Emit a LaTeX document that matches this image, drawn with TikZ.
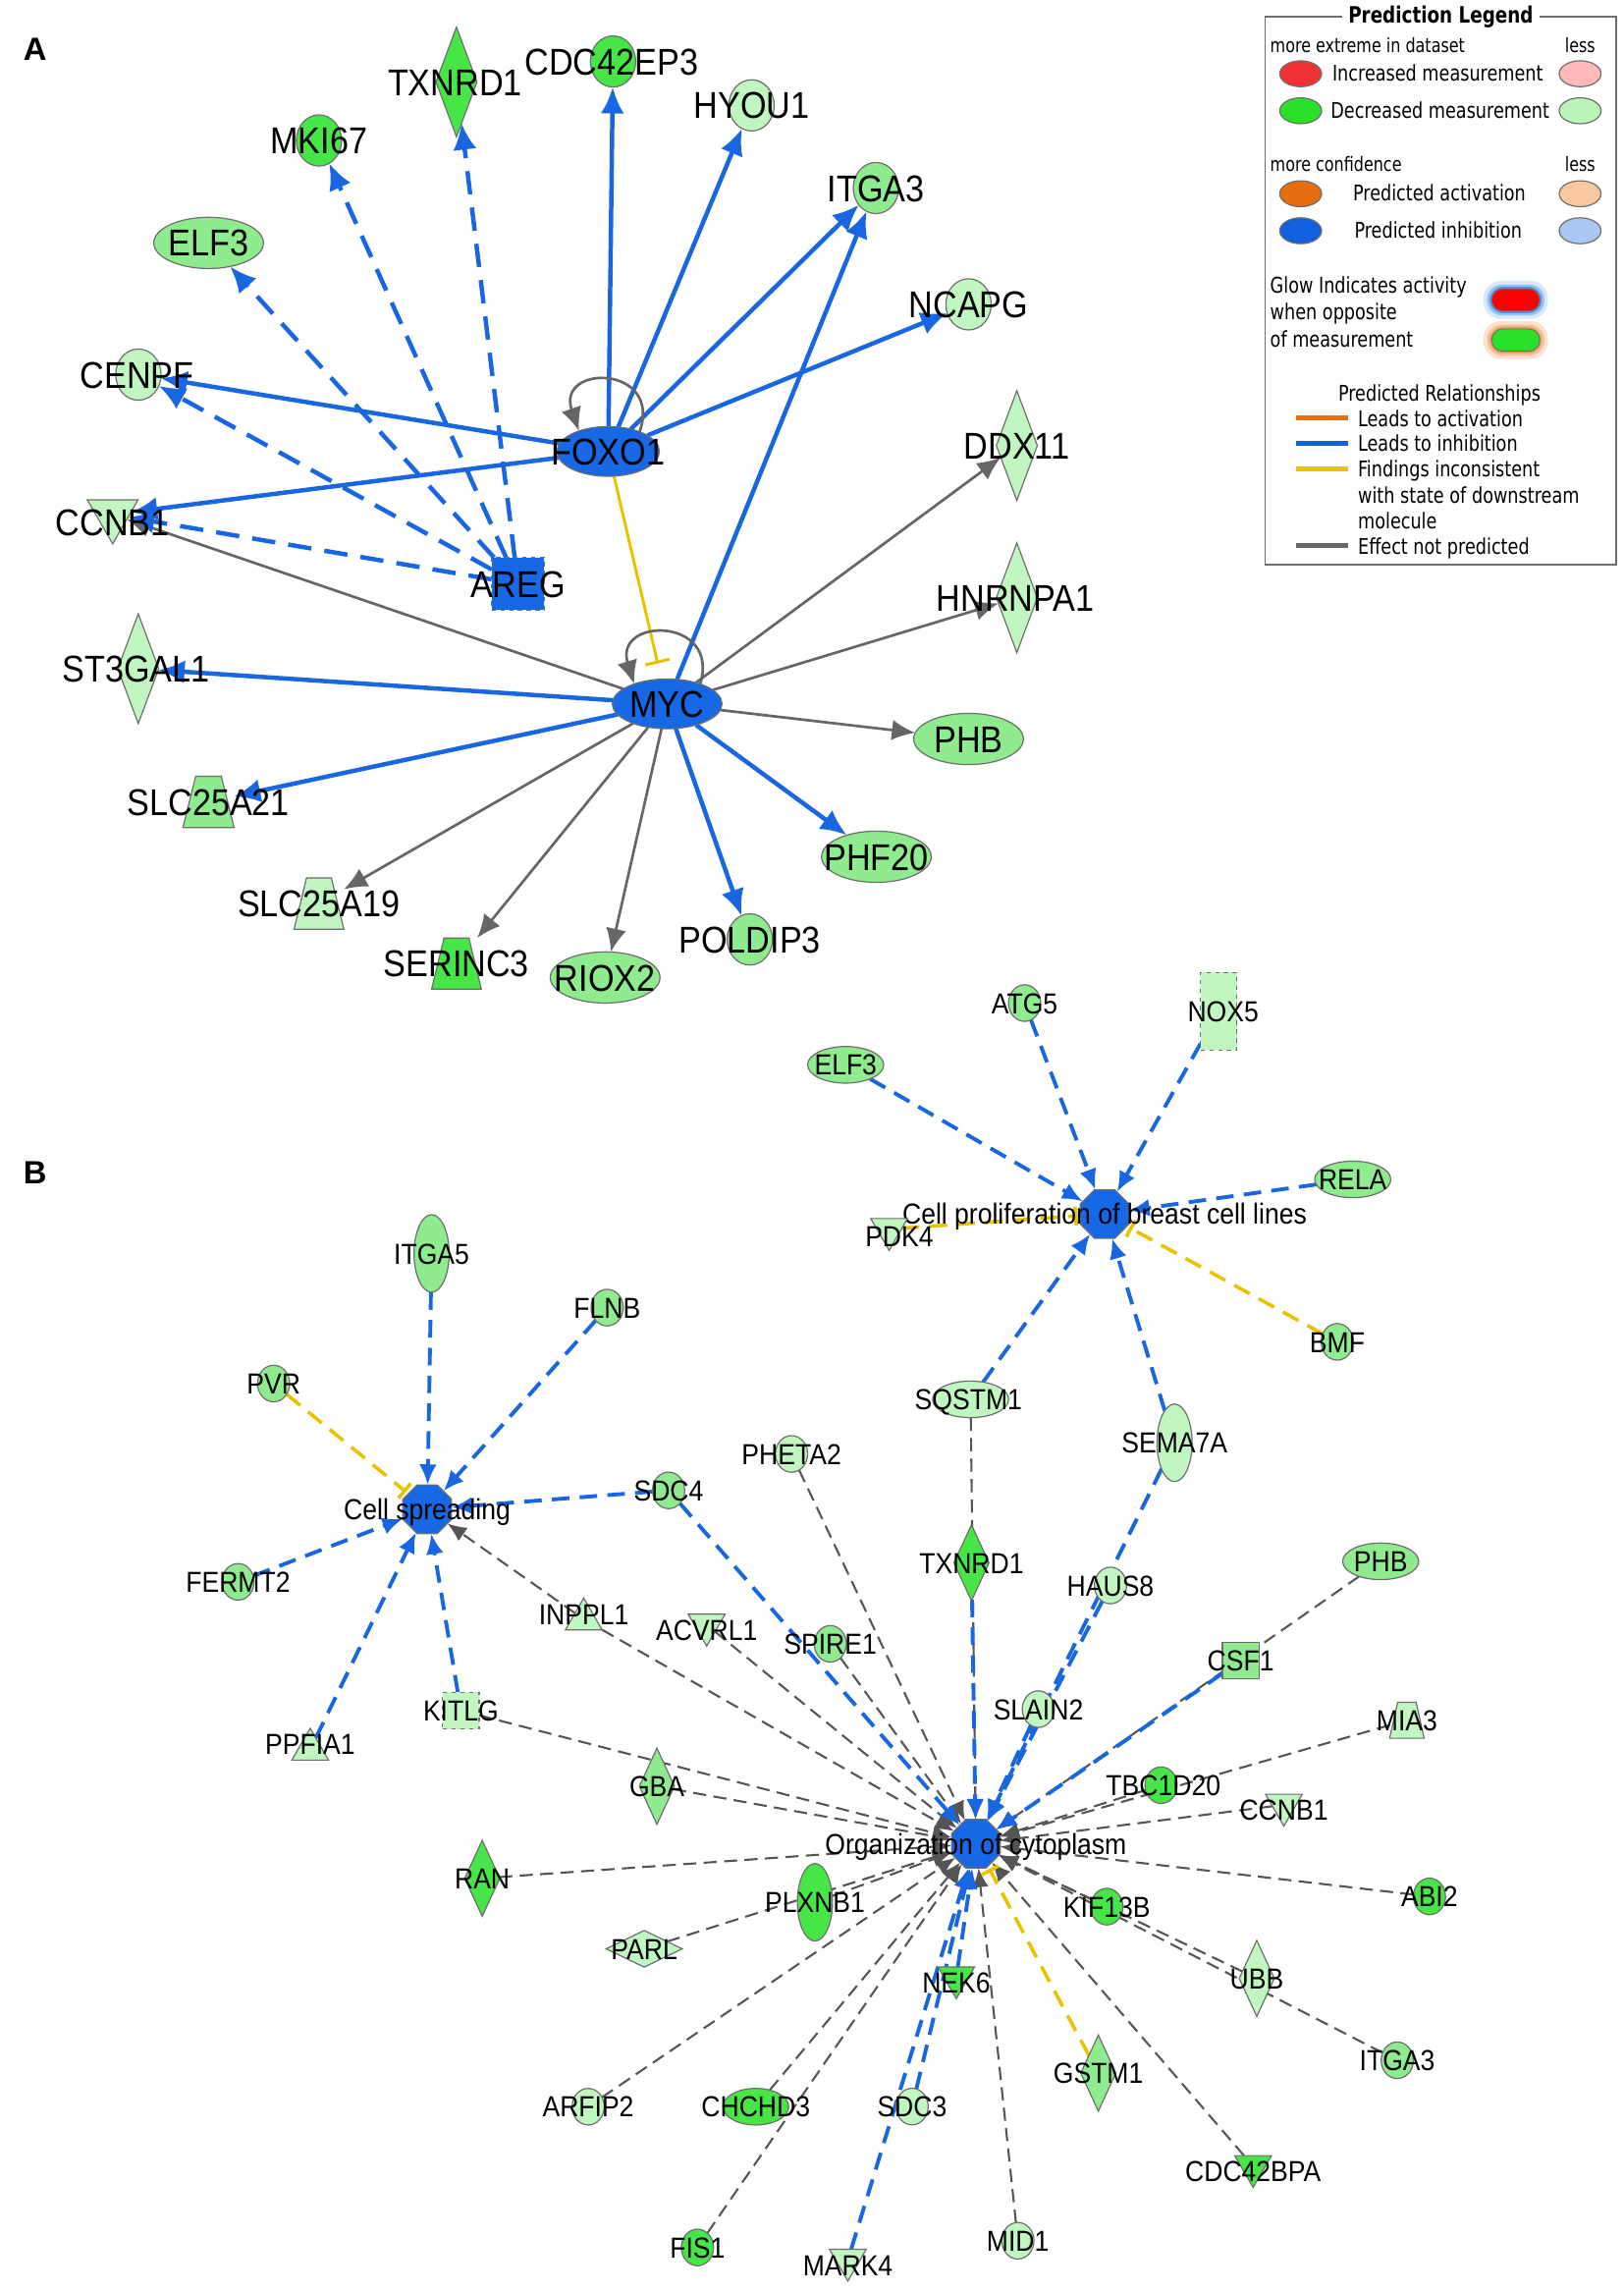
\documentclass[tikz,border=0pt]{standalone}
\usepackage{fontspec}
\usetikzlibrary{arrows.meta,shapes.geometric}
\newfontfamily\genefont[FakeStretch=0.9]{Liberation Sans}
\newfontfamily\legfont[FakeStretch=0.8]{DejaVu Sans}
\newfontfamily\panelfont{Liberation Sans}
\newcommand\fntA{\genefont\fontsize{25.5pt}{26pt}\selectfont}
\newcommand\fntB{\genefont\fontsize{19.8pt}{20pt}\selectfont}
\newcommand\fntL{\legfont\fontsize{14.8pt}{17pt}\selectfont}
\newcommand\fntLs{\legfont\fontsize{13.4pt}{15pt}\selectfont}
\newcommand\fntLt{\legfont\bfseries\fontsize{15.4pt}{17pt}\selectfont}
\newcommand\fntP{\panelfont\bfseries\fontsize{22pt}{22pt}\selectfont}
\definecolor{g1}{RGB}{70,230,70}
\definecolor{g2}{RGB}{142,236,142}
\definecolor{g3}{RGB}{192,246,192}
\definecolor{nblue}{RGB}{22,104,228}
\definecolor{eblue}{RGB}{24,102,226}
\definecolor{egray}{RGB}{102,102,102}
\definecolor{egray2}{RGB}{85,85,85}
\definecolor{eyel}{RGB}{232,196,0}
\definecolor{ngray}{RGB}{110,110,110}
\definecolor{lred}{RGB}{240,50,50}
\definecolor{lpink}{RGB}{255,185,185}
\definecolor{lgreen}{RGB}{40,225,40}
\definecolor{llgreen}{RGB}{185,245,185}
\definecolor{lorange}{RGB}{230,110,15}
\definecolor{lpeach}{RGB}{250,200,160}
\definecolor{lblue}{RGB}{16,96,224}
\definecolor{llblue}{RGB}{170,200,245}
\definecolor{gb1}{RGB}{214,232,252}
\definecolor{gb2}{RGB}{150,192,244}
\definecolor{gb3}{RGB}{80,145,232}
\definecolor{go1}{RGB}{252,226,206}
\definecolor{go2}{RGB}{246,190,150}
\definecolor{go3}{RGB}{238,150,100}
\pgfdeclarelayer{bg}
\pgfdeclarelayer{edges}
\pgfsetlayers{bg,edges,main}
\newcommand\mkgene[5]{\node[#3] (#1) at (#2) {}; \node[#4] (#1-t) at (#2) {#5};}
\newcommand\mktrap[8]{%
  \node[inner sep=0pt,outer sep=0pt,minimum width=#4pt,minimum height=#5pt] (#1) at (#2) {};
  \filldraw[fill=#3,draw=ngray,line width=0.8pt] (#1.south west) -- (#1.south east) -- ([xshift=-#6pt]#1.north east) -- ([xshift=#6pt]#1.north west) -- cycle;
  \node[#7] (#1-t) at (#2) {#8};}
\tikzset{
  nd/.style={draw=ngray, line width=0.8pt, inner sep=0pt, outer sep=0pt},
  circA/.style={nd, ellipse, minimum width=31pt, minimum height=35pt},
  ellA/.style={nd, ellipse, minimum width=75pt, minimum height=35pt},
  diaA/.style={nd, diamond, minimum width=28pt, minimum height=75pt},
  dtriA/.style={nd, regular polygon, regular polygon sides=3, shape border rotate=180, minimum size=40pt, yshift=5pt},
  sqA/.style={nd, rectangle, dashed, minimum width=36pt, minimum height=36pt},
  circB/.style={nd, ellipse, minimum width=22pt, minimum height=25pt},
  ellB/.style={nd, ellipse, minimum width=52pt, minimum height=25pt},
  vellB/.style={nd, ellipse, minimum width=24pt, minimum height=53pt},
  diaB/.style={nd, diamond, minimum width=24pt, minimum height=52pt},
  fdiaB/.style={nd, diamond, minimum width=52pt, minimum height=25pt},
  sqB/.style={nd, rectangle, minimum width=25pt, minimum height=25pt},
  dtriB/.style={nd, regular polygon, regular polygon sides=3, shape border rotate=180, minimum size=29pt, yshift=3.6pt},
  utriB/.style={nd, regular polygon, regular polygon sides=3, minimum size=29pt, yshift=-3.6pt},
  hub/.style={nd, regular polygon, regular polygon sides=8, minimum size=36pt, fill=nblue},
  labA/.style={font=\fntA, inner sep=0pt, text height=18.3pt, text depth=0pt},
  labB/.style={font=\fntB, inner sep=0pt, text height=14.2pt, text depth=0pt},
  eA/.style={line width=3pt, draw=eblue, -{Latex[length=18pt,width=16pt]}},
  eAd/.style={eA, dash pattern=on 16pt off 9pt},
  eAg/.style={line width=1.8pt, draw=egray, -{Latex[length=16pt,width=14pt]}},
  eAy/.style={line width=2pt, draw=eyel, -{Bar[width=17pt]}, shorten >=11pt},
  eB/.style={line width=2.6pt, draw=eblue, dash pattern=on 12pt off 7pt, -{Latex[length=14pt,width=12pt]}},
  eBg/.style={line width=1.4pt, draw=egray2, dash pattern=on 9pt off 5pt, -{Latex[length=13pt,width=11pt]}},
  eBy/.style={line width=2.4pt, draw=eyel, dash pattern=on 12pt off 7pt, -{Bar[width=13pt]}, shorten >=2pt},
  legell/.style={draw=ngray, line width=0.8pt, ellipse, minimum width=28.6pt, minimum height=17.7pt, inner sep=0pt},
  legtxt/.style={font=\fntL, inner sep=0pt, text height=10.8pt, text depth=0pt},
  legsm/.style={font=\fntLs, inner sep=0pt, text height=9.8pt, text depth=0pt},
  pill/.style={rectangle, rounded corners=7.5pt, minimum width=32.8pt, minimum height=15.2pt, inner sep=0pt, draw=ngray, line width=0.6pt},
  glow/.style={rectangle, inner sep=0pt},
  llin/.style={line width=3.2pt},
  plab/.style={font=\fntP, inner sep=0pt}
}
\begin{document}
\begin{tikzpicture}[x=1pt,y=-1pt]
\begin{pgfonlayer}{bg}
\path[fill=white] (0,0) rectangle (1110,1566.35);
\end{pgfonlayer}
\useasboundingbox (0,0) rectangle (1110,1566.35);

% ---------------- Panel A ----------------
\node[plab] (labelA) at (24,33.6) {A};
\mkgene{A-MKI67}{218,96}{circA,fill=g1}{labA}{MKI67}
\mkgene{A-TXNRD1}{312,56}{diaA,fill=g1}{labA,xshift=-1pt}{TXNRD1}
\mkgene{A-CDC42EP3}{419,42}{circA,fill=g1}{labA,xshift=-1pt}{CDC42EP3}
\mkgene{A-HYOU1}{513.7,72}{circA,fill=g3}{labA}{HYOU1}
\mkgene{A-ITGA3}{598.7,128.5}{circA,fill=g2}{labA}{ITGA3}
\mkgene{A-NCAPG}{662,208}{circA,fill=g3}{labA}{NCAPG}
\mkgene{A-ELF3}{142.6,166}{ellA,fill=g2}{labA}{ELF3}
\mkgene{A-CENPF}{94.6,256}{circA,fill=g3}{labA,xshift=-1pt}{CENPF}
\mkgene{A-FOXO1}{415.7,308.5}{ellA,minimum width=70pt,minimum height=34pt,fill=nblue}{labA}{FOXO1}
\mkgene{A-CCNB1}{77,356.6}{dtriA,fill=g3}{labA}{CCNB1}
\mkgene{A-AREG}{354,399}{sqA,fill=nblue}{labA}{AREG}
\mkgene{A-DDX11}{695,304.5}{diaA,fill=g3}{labA}{DDX11}
\mkgene{A-HNRNPA1}{695,408.5}{diaA,fill=g3}{labA,xshift=-1pt}{HNRNPA1}
\mkgene{A-ST3GAL1}{94.5,457}{diaA,fill=g3}{labA,xshift=-1.5pt}{ST3GAL1}
\mkgene{A-MYC}{456,481}{ellA,minimum height=34pt,fill=nblue}{labA}{MYC}
\mkgene{A-PHB}{662,505}{ellA,fill=g2}{labA}{PHB}
\mktrap{A-SLC25A21}{142.5,548}{g2}{35}{35}{8.75}{labA}{SLC25A21}
\mkgene{A-PHF20}{599,585.5}{ellA,fill=g2}{labA}{PHF20}
\mktrap{A-SLC25A19}{218,617.5}{g3}{34}{35}{8.5}{labA}{SLC25A19}
\mkgene{A-POLDIP3}{512.5,642}{circA,fill=g2}{labA}{POLDIP3}
\mktrap{A-SERINC3}{312,658.5}{g1}{34}{35}{8.5}{labA}{SERINC3}
\mkgene{A-RIOX2}{413.6,668}{ellA,fill=g2}{labA}{RIOX2}

\begin{pgfonlayer}{edges}
\foreach \t in {A-CCNB1,A-DDX11,A-HNRNPA1,A-PHB,A-SLC25A19,A-SERINC3,A-RIOX2}
  \draw[eAg] (A-MYC) -- (\t);
\foreach \t in {A-MKI67,A-TXNRD1,A-ELF3,A-CENPF,A-CCNB1}
  \draw[eAd] (A-AREG) -- (\t);
\foreach \t in {A-CDC42EP3,A-HYOU1,A-ITGA3,A-NCAPG,A-CENPF,A-CCNB1}
  \draw[eA] (A-FOXO1) -- (\t);
\foreach \t in {A-ITGA3,A-ST3GAL1,A-SLC25A21,A-PHF20,A-POLDIP3}
  \draw[eA] (A-MYC) -- (\t);
\draw[eAy] (A-FOXO1) -- (A-MYC);
\end{pgfonlayer}
\draw[eAg] (A-FOXO1.32) .. controls +(16,-46) and +(-16,-46) .. (A-FOXO1.145);
\draw[eAg] (A-MYC.31) .. controls +(14,-46) and +(-14,-46) .. (A-MYC.149);

% ---------------- Legend ----------------
\node[draw=ngray, line width=1pt, minimum width=239.9pt, minimum height=374.7pt, inner sep=0pt] (legend) at (984.55,198.65) {};
\node[font=\fntLt, fill=white, inner xsep=4pt, inner ysep=1pt] (lg-title) at (984.8,11.3) {Prediction Legend};
\node[legsm, anchor=west] (lg-m1) at (868,30.8) {more extreme in dataset};
\node[legsm, anchor=east] (lg-l1) at (1090.6,30.8) {less};
\node[legell, fill=lred] (lg-r) at (889,50.4) {};
\node[legell, fill=lpink] (lg-rl) at (1080,50.4) {};
\node[legtxt, anchor=west] (lg-inc) at (910.5,50) {Increased measurement};
\node[legell, fill=lgreen] (lg-g) at (889,75.7) {};
\node[legell, fill=llgreen] (lg-gl) at (1080,75.7) {};
\node[legtxt, anchor=west] (lg-dec) at (909.4,75.5) {Decreased measurement};
\node[legsm, anchor=west] (lg-m2) at (868,112.3) {more confidence};
\node[legsm, anchor=east] (lg-l2) at (1090.6,112.3) {less};
\node[legell, fill=lorange] (lg-o) at (889,132.4) {};
\node[legell, fill=lpeach] (lg-ol) at (1080,132.4) {};
\node[legtxt] (lg-act) at (983.8,132) {Predicted activation};
\node[legell, fill=lblue] (lg-b) at (889,157.7) {};
\node[legell, fill=llblue] (lg-bl) at (1080,157.7) {};
\node[legtxt] (lg-inh) at (983,157.5) {Predicted inhibition};
\node[legtxt, anchor=west] (lg-gw1) at (868,194.7) {Glow Indicates activity};
\node[legtxt, anchor=west] (lg-gw2) at (868,213.2) {when opposite};
\node[legtxt, anchor=west] (lg-gw3) at (868,231.6) {of measurement};
\node[glow, rounded corners=12pt, minimum width=44pt, minimum height=26pt, fill=gb1] (lg-p1a) at (1036,205) {};
\node[glow, rounded corners=10pt, minimum width=39pt, minimum height=21pt, fill=gb2] (lg-p1b) at (1036,205) {};
\node[glow, rounded corners=9pt, minimum width=35.5pt, minimum height=18pt, fill=gb3] (lg-p1c) at (1036,205) {};
\node[pill, fill=red] (lg-p1) at (1036,205) {};
\node[glow, rounded corners=12pt, minimum width=44pt, minimum height=26pt, fill=go1] (lg-p2a) at (1036,232.4) {};
\node[glow, rounded corners=10pt, minimum width=39pt, minimum height=21pt, fill=go2] (lg-p2b) at (1036,232.4) {};
\node[glow, rounded corners=9pt, minimum width=35.5pt, minimum height=18pt, fill=go3] (lg-p2c) at (1036,232.4) {};
\node[pill, fill=lgreen] (lg-p2) at (1036,232.4) {};
\node[legtxt] (lg-rel) at (983.8,268.7) {Predicted Relationships};
\coordinate (lg-a1) at (886,285.6); \coordinate (lg-a2) at (921.7,285.6);
\coordinate (lg-b1) at (886,302.8); \coordinate (lg-b2) at (921.7,302.8);
\coordinate (lg-c1) at (886,320.4); \coordinate (lg-c2) at (921.7,320.4);
\coordinate (lg-d1) at (886,372.9); \coordinate (lg-d2) at (921.7,372.9);
\draw[llin, lorange] (lg-a1) -- (lg-a2);
\draw[llin, lblue] (lg-b1) -- (lg-b2);
\draw[llin, eyel] (lg-c1) -- (lg-c2);
\draw[llin, egray] (lg-d1) -- (lg-d2);
\node[legtxt, anchor=west] (lg-ta) at (928,286) {Leads to activation};
\node[legtxt, anchor=west] (lg-tb) at (928,303.2) {Leads to inhibition};
\node[legtxt, anchor=west] (lg-tc) at (928,320.6) {Findings inconsistent};
\node[legtxt, anchor=west] (lg-tc2) at (928,338.6) {with state of downstream};
\node[legtxt, anchor=west] (lg-tc3) at (928,355.7) {molecule};
\node[legtxt, anchor=west] (lg-td) at (928,373.2) {Effect not predicted};

% ---------------- Panel B ----------------
\node[plab] (labelB) at (24,801.7) {B};
\mkgene{B-ATG5}{700.3,685.5}{circB,fill=g2}{labB}{ATG5}
\mkgene{B-NOX5}{833,691}{nd,rectangle,dashed,minimum width=25pt,minimum height=53pt,fill=g3}{labB,xshift=3pt}{NOX5}
\mkgene{B-ELF3}{578,727.7}{ellB,fill=g2}{labB}{ELF3}
\mkgene{B-RELA}{924.6,806}{ellB,fill=g2}{labB}{RELA}
\mkgene{B-CP}{755,829.6}{hub}{labB}{Cell proliferation of breast cell lines}
\mkgene{B-PDK4}{607.7,843.6}{dtriB,fill=g3}{labB,xshift=7pt,yshift=-1pt}{PDK4}
\mkgene{B-BMF}{914,917}{circB,fill=g2}{labB}{BMF}
\mkgene{B-SQSTM1}{663.4,956.3}{ellB,fill=g3}{labB,xshift=-1.5pt}{SQSTM1}
\mkgene{B-SEMA7A}{802.8,986}{vellB,fill=g3}{labB}{SEMA7A}
\mkgene{B-PHETA2}{541,993.6}{circB,fill=g3}{labB}{PHETA2}
\mkgene{B-ITGA5}{295,856.6}{vellB,fill=g2}{labB}{ITGA5}
\mkgene{B-FLNB}{415,893.6}{circB,fill=g2}{labB}{FLNB}
\mkgene{B-PVR}{187,945.5}{circB,fill=g2}{labB}{PVR}
\mkgene{B-CS}{292,1031.4}{hub}{labB}{Cell spreading}
\mkgene{B-SDC4}{457,1018.5}{circB,fill=g2}{labB}{SDC4}
\mkgene{B-FERMT2}{162.7,1081}{circB,fill=g2}{labB}{FERMT2}
\mkgene{B-INPPL1}{399,1103}{utriB,fill=g3}{labB}{INPPL1}
\mkgene{B-ACVRL1}{483,1114}{dtriB,fill=g3}{labB}{ACVRL1}
\mkgene{B-SPIRE1}{567.5,1123.4}{circB,fill=g2}{labB}{SPIRE1}
\mkgene{B-TXNRD1}{664,1068}{diaB,fill=g1}{labB}{TXNRD1}
\mkgene{B-HAUS8}{759,1083.5}{circB,fill=g3}{labB}{HAUS8}
\mkgene{B-PHB}{943.7,1067}{ellB,fill=g2}{labB}{PHB}
\mkgene{B-CSF1}{848,1135}{sqB,fill=g2}{labB}{CSF1}
\mkgene{B-KITLG}{315,1169}{sqB,dashed,fill=g3}{labB}{KITLG}
\mkgene{B-PPFIA1}{212,1192}{utriB,fill=g3}{labB}{PPFIA1}
\mkgene{B-SLAIN2}{709.7,1168}{circB,fill=g3}{labB}{SLAIN2}
\mktrap{B-MIA3}{961.6,1175.6}{g3}{23.6}{24.6}{5.5}{labB}{MIA3}
\mkgene{B-GBA}{449,1220.7}{diaB,fill=g2}{labB}{GBA}
\mkgene{B-TBC1D20}{793.6,1220}{circB,fill=g1}{labB,xshift=1.5pt}{TBC1D20}
\mkgene{B-CCNB1}{877.5,1237}{dtriB,fill=g3}{labB}{CCNB1}
\mkgene{B-OC}{667,1260}{hub}{labB}{Organization of cytoplasm}
\mkgene{B-RAN}{329.6,1283.6}{diaB,fill=g1}{labB}{RAN}
\mkgene{B-ABI2}{977,1296}{circB,fill=g1}{labB}{ABI2}
\mkgene{B-PLXNB1}{557,1300}{vellB,fill=g1}{labB}{PLXNB1}
\mkgene{B-KIF13B}{756.5,1303}{circB,fill=g1}{labB}{KIF13B}
\mkgene{B-PARL}{440.3,1331.8}{fdiaB,fill=g3}{labB}{PARL}
\mkgene{B-UBB}{859,1352}{diaB,fill=g3}{labB}{UBB}
\mkgene{B-NEK6}{653.6,1355}{dtriB,fill=g1}{labB}{NEK6}
\mkgene{B-GSTM1}{750.7,1416.7}{diaB,fill=g2}{labB}{GSTM1}
\mkgene{B-ITGA3}{955,1408}{circB,fill=g2}{labB}{ITGA3}
\mkgene{B-ARFIP2}{402,1439.7}{circB,fill=g3}{labB}{ARFIP2}
\mkgene{B-CHCHD3}{516.6,1439.7}{ellB,minimum width=45pt,fill=g1}{labB}{CHCHD3}
\mkgene{B-SDC3}{623.4,1439.6}{circB,fill=g3}{labB}{SDC3}
\mkgene{B-CDC42BPA}{856.5,1484}{dtriB,fill=g1}{labB}{CDC42BPA}
\mkgene{B-FIS1}{476.7,1535.9}{circB,fill=g1}{labB}{FIS1}
\mkgene{B-MARK4}{579.5,1548}{dtriB,fill=g3}{labB}{MARK4}
\mkgene{B-MID1}{695.7,1531.3}{circB,fill=g3}{labB}{MID1}

\begin{pgfonlayer}{edges}
\foreach \s in {B-SQSTM1,B-PHETA2,B-SPIRE1,B-ACVRL1,B-INPPL1,B-KITLG,B-GBA,B-RAN,B-PLXNB1,B-PARL,B-ARFIP2,B-CHCHD3,B-FIS1,B-MID1,B-CDC42BPA,B-UBB,B-ITGA3,B-KIF13B,B-ABI2,B-CCNB1,B-TBC1D20,B-MIA3,B-PHB}
  \draw[eBg] (\s) -- (B-OC);
\draw[eBg] (B-INPPL1) -- (B-CS);
\foreach \s in {B-SDC4,B-TXNRD1,B-SEMA7A,B-HAUS8,B-SLAIN2,B-CSF1,B-NEK6,B-SDC3,B-MARK4}
  \draw[eB] (\s) -- (B-OC);
\foreach \s in {B-ELF3,B-ATG5,B-NOX5,B-RELA,B-SQSTM1,B-SEMA7A}
  \draw[eB] (\s) -- (B-CP);
\foreach \s in {B-ITGA5,B-FLNB,B-SDC4,B-FERMT2,B-PPFIA1,B-KITLG}
  \draw[eB] (\s) -- (B-CS);
\draw[eBy] (B-GSTM1) -- (B-OC);
\draw[eBy] (B-PDK4) -- (B-CP);
\draw[eBy] (B-BMF) -- (B-CP);
\draw[eBy] (B-PVR) -- (B-CS);
\end{pgfonlayer}
\end{tikzpicture}
\end{document}
